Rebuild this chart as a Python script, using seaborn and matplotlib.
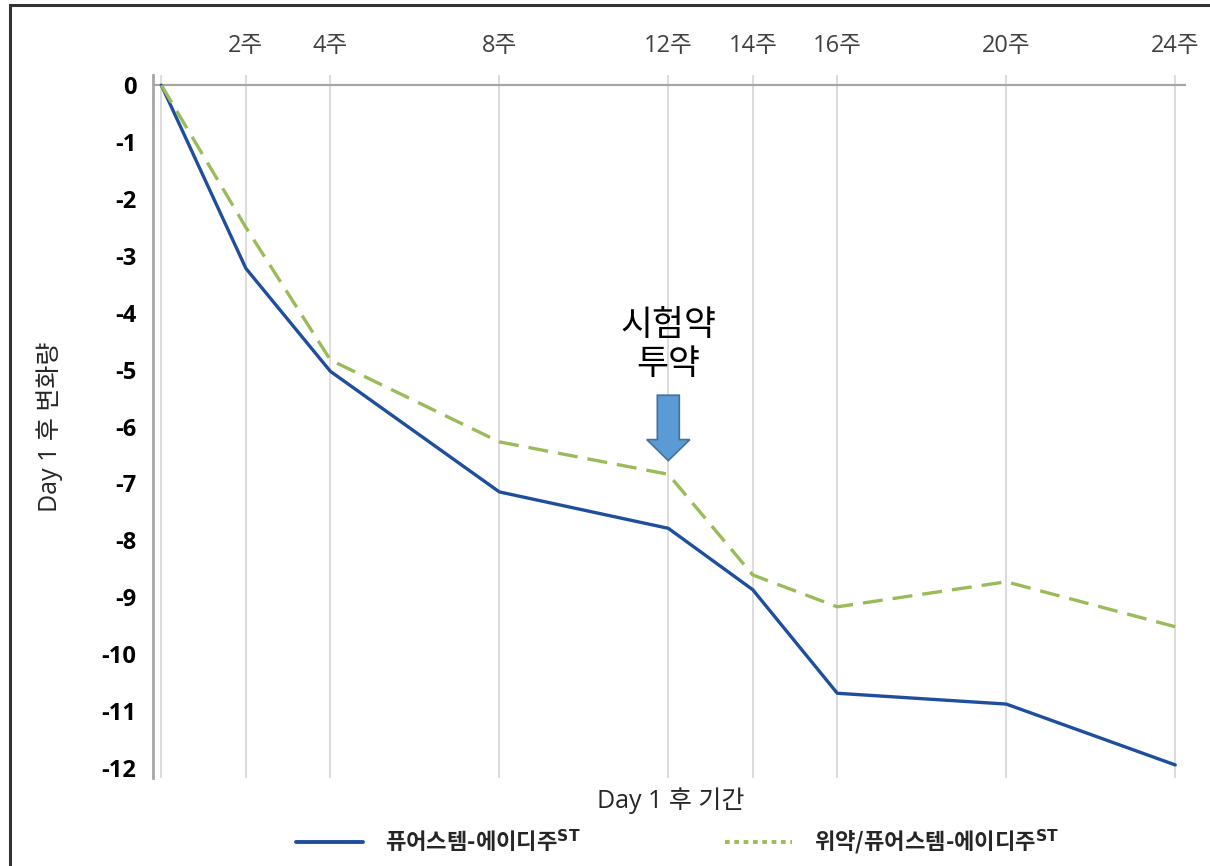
import numpy as np
import pandas as pd
import matplotlib
matplotlib.use("Agg")
import matplotlib.pyplot as plt
from matplotlib.lines import Line2D
from matplotlib.patches import Rectangle, FancyArrow
import seaborn as sns

# ---------------------------------------------------------------------------
# Data
# ---------------------------------------------------------------------------
weeks = [0, 2, 4, 8, 12, 14, 16, 20, 24]
week_labels = ["", "2주", "4주", "8주", "12주", "14주", "16주", "20주", "24주"]
active = [0, -3.22, -5.03, -7.15, -7.79, -8.87, -10.69, -10.88, -11.95]
placebo = [0, -2.50, -4.83, -6.27, -6.84, -8.61, -9.17, -8.73, -9.52]
series_names = ["퓨어스템-에이디주ST", "위약/퓨어스템-에이디주ST"]
legend_labels = [r"퓨어스템-에이디주$^{\mathbf{ST}}$",
                 r"위약/퓨어스템-에이디주$^{\mathbf{ST}}$"]
y_ticks = list(range(0, -13, -1))

BLUE = "#1f4e9c"
GREEN = "#9bbb59"
CJK = ["Noto Sans CJK KR", "DejaVu Sans"]

df = pd.DataFrame({
    "week": weeks * 2,
    "value": active + placebo,
    "group": [series_names[0]] * len(weeks) + [series_names[1]] * len(weeks),
})

# ---------------------------------------------------------------------------
# Plot
# ---------------------------------------------------------------------------
sns.set_style("white")
plt.rcParams["font.family"] = ["Open Sans", "Noto Sans CJK KR", "DejaVu Sans"]

fig = plt.figure(figsize=(12.1, 8.66), dpi=100)
ax = fig.add_axes([0.1264, 0.1016, 0.8536, 0.8118])

# vertical grid lines at every week tick (drawn below the data)
for w in weeks:
    ax.axvline(w, color="#d9d9d9", lw=1.3, zorder=0)
ax.axhline(0, color="#a6a6a6", lw=1.6, zorder=1)

sns.lineplot(data=df, x="week", y="value", hue="group", style="group",
             palette={series_names[0]: BLUE, series_names[1]: GREEN},
             dashes={series_names[0]: "", series_names[1]: (6, 3)},
             linewidth=2.4, legend=False, ax=ax, zorder=3)

ax.set_xlim(-0.2, 24.25)
ax.set_ylim(-12.18, 0.18)

ax.xaxis.tick_top()
ax.set_xticks(weeks)
ax.set_xticklabels(week_labels, fontsize=17, color="#404040")
ax.set_yticks(y_ticks)
ax.set_yticklabels([str(v) for v in y_ticks], fontsize=17, fontweight="bold",
                   color="black")
ax.tick_params(axis="x", length=0, pad=12)
ax.tick_params(axis="y", length=0, pad=12)

for s in ["top", "right", "bottom"]:
    ax.spines[s].set_visible(False)
ax.spines["left"].set_color("#a6a6a6")
ax.spines["left"].set_linewidth(2)

ax.set_xlabel("")
ax.set_ylabel("Day 1 후 변화량", fontsize=18, color="#262626")
ax.yaxis.set_label_coords(-0.087, 0.5)
fig.text(0.554, 0.076, "Day 1 후 기간", ha="center", va="center",
         fontsize=18, color="#262626")

# dosing annotation
ax.text(12, -4.57, "시험약\n투약", ha="center", va="center", fontsize=25,
        color="black", linespacing=1.15, family=CJK)
arrow = FancyArrow(12, -5.45, 0, -1.15, width=0.52, head_width=1.02,
                   head_length=0.37, length_includes_head=True,
                   facecolor="#5b9bd5", edgecolor="#41719c", lw=1.2, zorder=4)
ax.add_patch(arrow)

# legend
handles = [
    Line2D([0], [0], color=BLUE, lw=2.8),
    Line2D([0], [0], color=GREEN, lw=2.8, linestyle=(0, (1.2, 1.2))),
]
leg = fig.legend(handles, legend_labels, loc="center", ncol=2,
                 bbox_to_anchor=(0.56, 0.027), frameon=False,
                 prop={"size": 16, "weight": "bold", "family": CJK},
                 handlelength=3.0, columnspacing=6.5, handletextpad=1.0)

# outer frame of the picture
fig.patches.append(Rectangle((0.008, -0.2), 1.2, 1.194, transform=fig.transFigure,
                             fill=False, edgecolor="#333333", lw=2.2))

fig.savefig("out.png", dpi=100)
